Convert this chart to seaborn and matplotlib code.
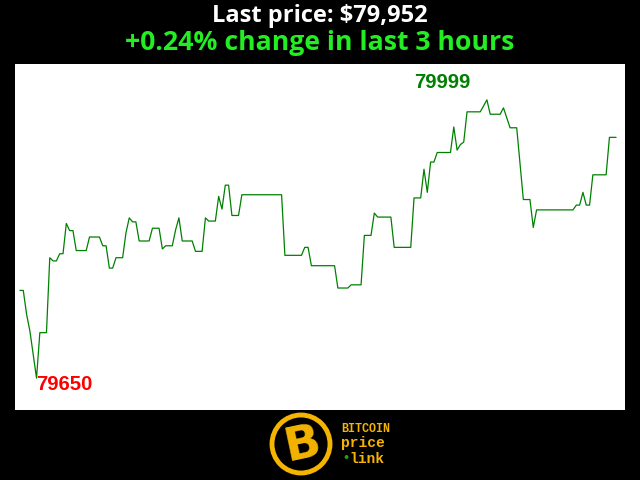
import pandas as pd
import matplotlib.pyplot as plt
import seaborn as sns
from matplotlib.patches import Circle

# price samples (minutes since start, price in USD)
minutes = [0, 1, 2, 3, 5, 6, 8, 9, 10, 11, 12, 13, 14, 15, 16, 17, 20, 21, 24, 25,
           26, 27, 28, 29, 31, 32, 33, 34, 35, 36, 39, 40, 42, 43, 44, 46, 47, 48, 49, 52,
           53, 55, 56, 57, 59, 60, 61, 62, 63, 64, 66, 67, 79, 80, 85, 86, 87, 88, 95, 96,
           99, 100, 103, 104, 106, 107, 108, 112, 113, 118, 119, 121, 122, 123, 124, 125, 126, 130, 131, 132,
           133, 134, 135, 139, 141, 142, 145, 146, 148, 150, 152, 154, 155, 156, 167, 168, 169, 170, 171, 172,
           173, 177, 178, 180]
prices = [79760, 79760, 79730, 79709, 79650, 79707, 79707, 79801, 79797, 79797, 79806, 79806, 79844, 79835, 79835, 79810, 79810, 79827, 79827, 79816,
          79816, 79788, 79788, 79801, 79801, 79832, 79851, 79846, 79846, 79822, 79822, 79838, 79838, 79812, 79816, 79816, 79836, 79851, 79822, 79822,
          79809, 79809, 79851, 79847, 79847, 79878, 79862, 79892, 79892, 79854, 79854, 79880, 79880, 79804, 79804, 79814, 79814, 79791, 79791, 79763,
          79763, 79767, 79767, 79829, 79829, 79857, 79852, 79852, 79814, 79814, 79876, 79876, 79912, 79883, 79921, 79921, 79933, 79933, 79965, 79936,
          79943, 79946, 79984, 79984, 79999, 79981, 79981, 79989, 79964, 79964, 79874, 79874, 79839, 79861, 79861, 79867, 79867, 79883, 79867, 79867,
          79905, 79905, 79952, 79952]

df = pd.DataFrame({'minute': minutes, 'price': prices})
last_price = prices[-1]
pct = (prices[-1] - prices[0]) / prices[0] * 100

sns.set_style('white')
plt.rcParams['font.family'] = ['Open Sans', 'DejaVu Sans']

fig = plt.figure(figsize=(6.4, 4.8), dpi=100, facecolor='black')
ax = fig.add_axes([15/640, 70/480, 610/640, 346/480])
ax.set_facecolor('white')
sns.lineplot(data=df, x='minute', y='price', ax=ax, color='green', linewidth=0.9)
ax.set_xlim(-1.5, 182.7)
ax.set_ylim(min(prices) - 40, max(prices) + 45)
ax.set_axis_off()
ax.add_patch(plt.Rectangle((0, 0), 1, 1, transform=ax.transAxes, color='white', zorder=-1))

# max / min labels
imax = prices.index(max(prices))
imin = prices.index(min(prices))
ax.annotate(str(max(prices)), (minutes[imax], prices[imax]), xytext=(-12, 6),
            textcoords='offset points', ha='right', va='bottom', color='green',
            fontsize=14.6, fontweight='bold', family='Liberation Sans')
ax.annotate(str(min(prices)), (minutes[imin], prices[imin]), xytext=(0, 2),
            textcoords='offset points', ha='left', va='top', color='red',
            fontsize=14.6, fontweight='bold', family='Liberation Sans')

fig.text(0.5, 1 - 16/480, f'Last price: ${last_price:,}', ha='center', va='center',
         color='white', fontsize=17, fontweight='bold')
fig.text(0.5, 1 - 43/480, f'+{pct:.2f}% change in last 3 hours', ha='center', va='center',
         color='#22ee22', fontsize=19.2, fontweight='bold')

# logo
gold = '#f5b400'
lax = fig.add_axes([268/640, 0, 70/640, 70/480])
lax.set_xlim(0, 70)
lax.set_ylim(0, 70)
lax.set_aspect('equal')
lax.set_axis_off()
lax.add_patch(Circle((33, 36), 29, facecolor='black', edgecolor=gold, linewidth=3.5))
lax.text(35, 35, 'B', color=gold, fontsize=34, fontweight='heavy', ha='center', va='center',
         family='DejaVu Sans', rotation=12)
fig.text(341/640, 1 - 432/480, 'BITCOIN', color=gold, fontsize=8.5, fontweight='bold',
         family='Liberation Mono', va='baseline')
fig.text(341/640, 1 - 447/480, 'price', color=gold, fontsize=10.5, fontweight='bold',
         family='Liberation Mono', va='baseline')
fig.text(342/640, 1 - 458/480, '\u2022', color='#20a020', fontsize=8, fontweight='bold',
         family='DejaVu Sans', va='center')
fig.text(349/640, 1 - 463/480, 'link', color=gold, fontsize=10.5, fontweight='bold',
         family='Liberation Mono', va='baseline')

fig.savefig('out.png', dpi=100, facecolor='black')
